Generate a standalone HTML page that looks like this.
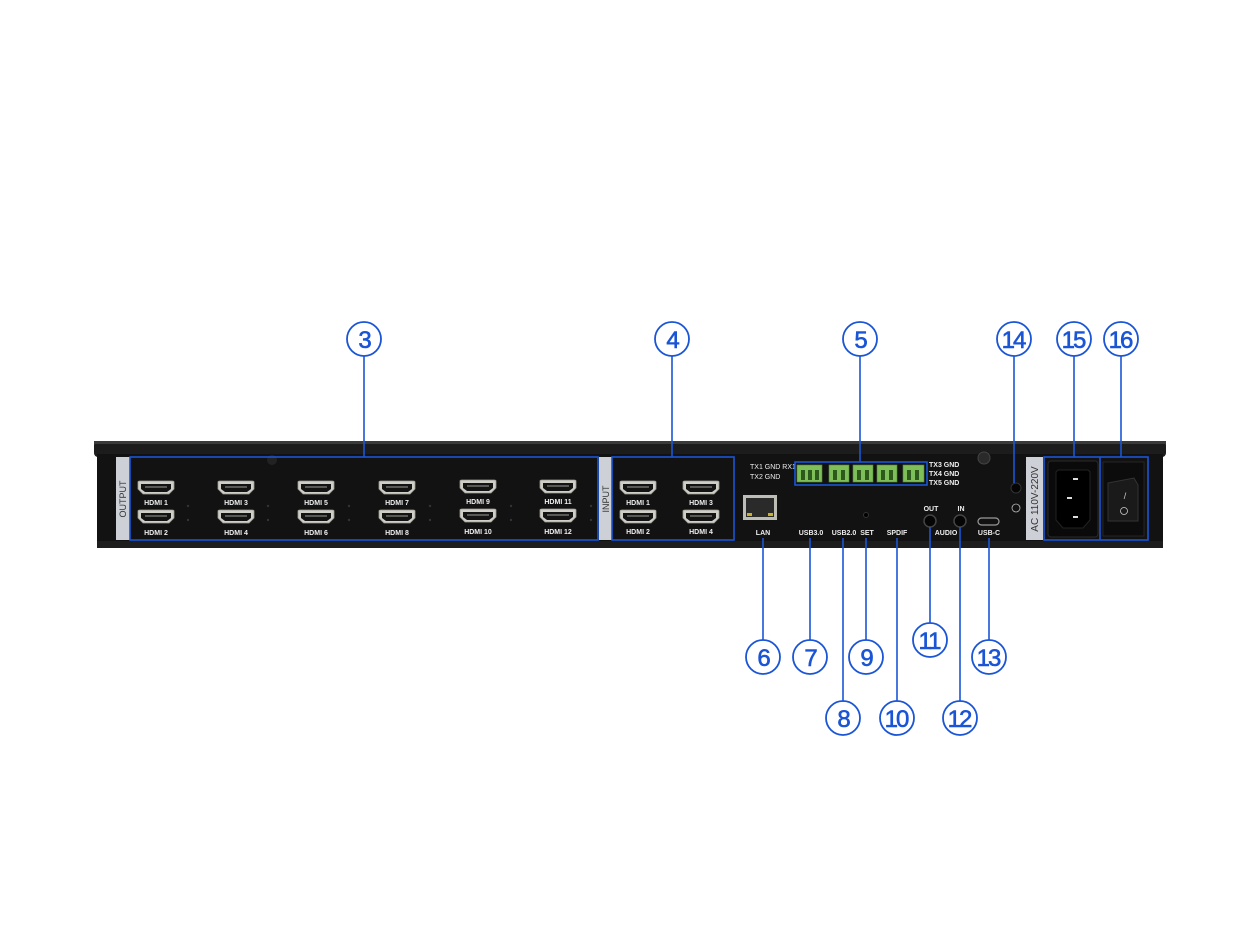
<!DOCTYPE html>
<html><head><meta charset="utf-8"><style>
html,body{margin:0;padding:0;background:#fff;}
svg{display:block;font-family:"Liberation Sans",sans-serif;}
</style></head><body>
<svg width="1257" height="942" viewBox="0 0 1257 942" xmlns="http://www.w3.org/2000/svg">
<defs>
<g id="hdmi">
<path d="M0,1 Q0,0 2,0 L34,0 Q36,0 36,1 L36,8 L31,13 L5,13 L0,8 Z" fill="#cfcfc8" stroke="#9a9a92" stroke-width="0.8"/>
<path d="M3,3 L33,3 L33,8 L29,11 L7,11 L3,8 Z" fill="#141414"/>
<rect x="7" y="5" width="22" height="2" fill="#5a5a55"/>
</g>
</defs>
<rect x="94" y="441" width="1072" height="16" rx="4" fill="#1c1c1c"/>
<rect x="94" y="441" width="1072" height="3" fill="#3a3a3a"/>
<rect x="97" y="454" width="1066" height="94" fill="#121212"/>
<rect x="97" y="541" width="1066" height="7" fill="#1d1d1d"/>
<rect x="116" y="457" width="14" height="83" fill="#cdd0d6"/>
<text x="126" y="499" font-size="9" fill="#333" text-anchor="middle" transform="rotate(-90 126 499)">OUTPUT</text>
<rect x="599" y="457" width="13" height="83" fill="#cdd0d6"/>
<text x="609" y="499" font-size="9" fill="#333" text-anchor="middle" transform="rotate(-90 609 499)">INPUT</text>
<rect x="1026" y="457" width="17" height="83" fill="#cdd0d6"/>
<text x="1038" y="499" font-size="10" fill="#333" text-anchor="middle" transform="rotate(-90 1038 499)">AC 110V-220V</text>
<circle cx="272" cy="460" r="5" fill="#222"/>
<circle cx="984" cy="458" r="6" fill="#2a2a2a" stroke="#444"/>
<g font-size="7" fill="#eee" text-anchor="middle" font-weight="bold">
<use href="#hdmi" x="138" y="481"/><text x="156" y="505">HDMI 1</text>
<use href="#hdmi" x="138" y="510"/><text x="156" y="535">HDMI 2</text>
<use href="#hdmi" x="218" y="481"/><text x="236" y="505">HDMI 3</text>
<use href="#hdmi" x="218" y="510"/><text x="236" y="535">HDMI 4</text>
<use href="#hdmi" x="298" y="481"/><text x="316" y="505">HDMI 5</text>
<use href="#hdmi" x="298" y="510"/><text x="316" y="535">HDMI 6</text>
<use href="#hdmi" x="379" y="481"/><text x="397" y="505">HDMI 7</text>
<use href="#hdmi" x="379" y="510"/><text x="397" y="535">HDMI 8</text>
<use href="#hdmi" x="460" y="480"/><text x="478" y="504">HDMI 9</text>
<use href="#hdmi" x="460" y="509"/><text x="478" y="534">HDMI 10</text>
<use href="#hdmi" x="540" y="480"/><text x="558" y="504">HDMI 11</text>
<use href="#hdmi" x="540" y="509"/><text x="558" y="534">HDMI 12</text>
<use href="#hdmi" x="620" y="481"/><text x="638" y="505">HDMI 1</text>
<use href="#hdmi" x="620" y="510"/><text x="638" y="534">HDMI 2</text>
<use href="#hdmi" x="683" y="481"/><text x="701" y="505">HDMI 3</text>
<use href="#hdmi" x="683" y="510"/><text x="701" y="534">HDMI 4</text>
</g>
<g fill="#333"><circle cx="188" cy="506" r="1.2"/><circle cx="188" cy="520" r="1.2"/><circle cx="268" cy="506" r="1.2"/><circle cx="268" cy="520" r="1.2"/><circle cx="349" cy="506" r="1.2"/><circle cx="349" cy="520" r="1.2"/><circle cx="430" cy="506" r="1.2"/><circle cx="430" cy="520" r="1.2"/><circle cx="511" cy="506" r="1.2"/><circle cx="511" cy="520" r="1.2"/><circle cx="591" cy="506" r="1.2"/><circle cx="591" cy="520" r="1.2"/></g>
<rect x="743" y="495" width="34" height="25" fill="#bdbdb8"/>
<rect x="746" y="498" width="28" height="19" fill="#2a2a2a"/>
<rect x="747" y="513" width="5" height="3" fill="#c8b030"/><rect x="768" y="513" width="5" height="3" fill="#c8b030"/>
<g fill="#7fbf5a" stroke="#4d8a34" stroke-width="0.6">
<rect x="797" y="465" width="25" height="17"/><rect x="829" y="465" width="20" height="17"/><rect x="853" y="465" width="20" height="17"/><rect x="877" y="465" width="20" height="17"/><rect x="903" y="465" width="21" height="17"/>
</g>
<g fill="#2d5a1c"><rect x="801" y="470" width="4" height="10"/><rect x="808" y="470" width="4" height="10"/><rect x="815" y="470" width="4" height="10"/><rect x="833" y="470" width="4" height="10"/><rect x="841" y="470" width="4" height="10"/><rect x="857" y="470" width="4" height="10"/><rect x="865" y="470" width="4" height="10"/><rect x="881" y="470" width="4" height="10"/><rect x="889" y="470" width="4" height="10"/><rect x="907" y="470" width="4" height="10"/><rect x="915" y="470" width="4" height="10"/></g>
<g font-size="7" fill="#eee">
<text x="750" y="469">TX1 GND RX1</text><text x="750" y="479">TX2 GND</text>
<text x="929" y="467" font-weight="bold">TX3 GND</text><text x="929" y="476" font-weight="bold">TX4 GND</text><text x="929" y="485" font-weight="bold">TX5 GND</text>
</g>
<g font-size="7" fill="#eee" text-anchor="middle" font-weight="bold">
<text x="763" y="535">LAN</text><text x="811" y="535">USB3.0</text><text x="844" y="535">USB2.0</text><text x="867" y="535">SET</text><text x="897" y="535">SPDIF</text><text x="931" y="511">OUT</text><text x="961" y="511">IN</text><text x="946" y="535">AUDIO</text><text x="989" y="535">USB-C</text>
</g>
<circle cx="866" cy="515" r="2.5" fill="#000" stroke="#333"/>
<circle cx="930" cy="521" r="6" fill="#050505" stroke="#444" stroke-width="1.5"/>
<circle cx="960" cy="521" r="6" fill="#050505" stroke="#444" stroke-width="1.5"/>
<rect x="978" y="518" width="21" height="7" rx="3.5" fill="#111" stroke="#999" stroke-width="1.2"/>
<circle cx="1016" cy="488" r="5" fill="#050505" stroke="#333"/>
<circle cx="1016" cy="508" r="4" fill="none" stroke="#bbb" stroke-width="0.8"/>
<rect x="1048" y="461" width="50" height="76" rx="3" fill="#0a0a0a" stroke="#2a2a2a"/>
<path d="M1058,470 L1088,470 L1090,472 L1090,520 L1083,528 L1063,528 L1056,520 L1056,472 Z" fill="#000" stroke="#222"/>
<g fill="#ddd"><rect x="1073" y="478" width="5" height="2"/><rect x="1067" y="497" width="5" height="2"/><rect x="1073" y="516" width="5" height="2"/></g>
<rect x="1103" y="462" width="41" height="74" fill="#0c0c0c" stroke="#252525"/>
<path d="M1108,483 L1134,478 L1138,485 L1138,521 L1108,521 Z" fill="#1a1a1a" stroke="#333"/>
<text x="1125" y="499" font-size="9" fill="#ccc" text-anchor="middle">/</text>
<circle cx="1124" cy="511" r="3.5" fill="none" stroke="#ccc" stroke-width="0.8"/>
<g fill="none" stroke="#1a55d6" stroke-width="1.6">
<rect x="130" y="457" width="468" height="83"/>
<rect x="612" y="457" width="122" height="83"/>
<rect x="795" y="462" width="132" height="23"/>
<rect x="1044" y="457" width="104" height="83"/>
<line x1="1100" y1="457" x2="1100" y2="540"/>
<line x1="364" y1="356" x2="364" y2="457"/>
<line x1="672" y1="356" x2="672" y2="457"/>
<line x1="860" y1="356" x2="860" y2="462"/>
<line x1="1014" y1="356" x2="1014" y2="483"/>
<line x1="1074" y1="356" x2="1074" y2="457"/>
<line x1="1121" y1="356" x2="1121" y2="457"/>
<line x1="763" y1="538" x2="763" y2="640"/>
<line x1="810" y1="538" x2="810" y2="640"/>
<line x1="843" y1="538" x2="843" y2="701"/>
<line x1="866" y1="538" x2="866" y2="640"/>
<line x1="897" y1="538" x2="897" y2="701"/>
<line x1="930" y1="527" x2="930" y2="623"/>
<line x1="960" y1="527" x2="960" y2="701"/>
<line x1="989" y1="538" x2="989" y2="640"/>
</g>
<g fill="#fff" stroke="#1a55d6" stroke-width="1.8">
<circle cx="364" cy="339" r="17"/><circle cx="672" cy="339" r="17"/><circle cx="860" cy="339" r="17"/><circle cx="1014" cy="339" r="17"/><circle cx="1074" cy="339" r="17"/><circle cx="1121" cy="339" r="17"/>
<circle cx="763" cy="657" r="17"/><circle cx="810" cy="657" r="17"/><circle cx="866" cy="657" r="17"/><circle cx="930" cy="640" r="17"/><circle cx="989" cy="657" r="17"/>
<circle cx="843" cy="718" r="17"/><circle cx="897" cy="718" r="17"/><circle cx="960" cy="718" r="17"/>
</g>
<g fill="#1a55d6" font-size="24" text-anchor="middle" letter-spacing="-2" stroke="#1a55d6" stroke-width="0.6">
<text x="364" y="348">3</text><text x="672" y="348">4</text><text x="860" y="348">5</text><text x="1013" y="348">14</text><text x="1073" y="348">15</text><text x="1120" y="348">16</text>
<text x="763" y="666">6</text><text x="810" y="666">7</text><text x="866" y="666">9</text><text x="929" y="649">11</text><text x="988" y="666">13</text>
<text x="843" y="727">8</text><text x="896" y="727">10</text><text x="959" y="727">12</text>
</g>
</svg>
</body></html>
